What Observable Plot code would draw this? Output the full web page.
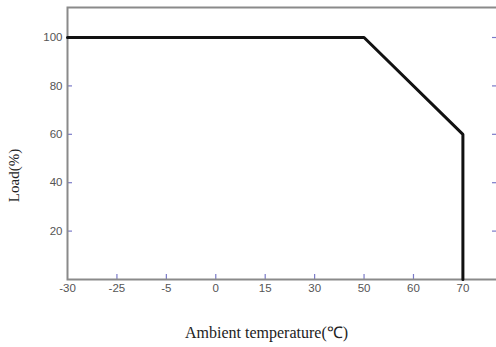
<!DOCTYPE html>
<html>
<head>
<meta charset="utf-8">
<script src="https://cdn.jsdelivr.net/npm/d3@7"></script>
<script src="https://cdn.jsdelivr.net/npm/@observablehq/plot@0.6"></script>
<style>
  html, body { margin: 0; padding: 0; background: #fff; }
  svg { display: block; }
</style>
</head>
<body>
<div id="chart"></div>
<script>
// Tick labels along the (non-uniform) temperature axis, equally spaced
const xTickLabels = ["-30", "-25", "-5", "0", "15", "30", "50", "60", "70"];
const yTickValues = [20, 40, 60, 80, 100];

// Derating curve
const temps = [-30, 50, 70, 70];
const loads = [100, 100, 60, 0];

const pos = t => xTickLabels.indexOf(String(t));
const curve = temps.map((t, i) => ({x: pos(t), y: loads[i]}));
const xIdx = xTickLabels.map((_, i) => i);

const W = 496, H = 347, mL = 67, mR = -1, mT = 7, mB = 68;
const frameW = W - mL - mR, frameH = H - mT - mB;
const tickLen = 5;

const tickColor = "#7a7ac8";
const labelColor = "#555";
const serif = "Liberation Serif, Times New Roman, serif";

const chart = Plot.plot({
  width: W,
  height: H,
  marginLeft: mL,
  marginRight: mR,
  marginTop: mT,
  marginBottom: mB,
  style: {fontFamily: "Liberation Sans, Arial, sans-serif", fontSize: "11px", background: "#fff"},
  x: {domain: [0, 8.7], axis: null},
  y: {domain: [0, 112.4], axis: null},
  marks: [
    // inward tick marks
    Plot.tickX(xIdx.slice(1), {x: d => d, insetTop: frameH - tickLen, stroke: tickColor, strokeWidth: 1.2}),
    Plot.tickY(yTickValues, {y: d => d, insetRight: frameW - tickLen, stroke: tickColor, strokeWidth: 1.2}),
    Plot.tickY(yTickValues, {y: d => d, insetLeft: frameW - tickLen, stroke: tickColor, strokeWidth: 1.2}),
    // tick labels
    Plot.axisX(xIdx, {anchor: "bottom", tickSize: 0, tickPadding: 4, tickFormat: i => xTickLabels[i], fill: labelColor, fontSize: 11.5, label: null}),
    Plot.axisY(yTickValues, {anchor: "left", tickSize: 0, tickPadding: 5, fill: labelColor, fontSize: 11.5, label: null}),
    Plot.frame({stroke: "#8a8a8a", strokeWidth: 2}),
    Plot.line(curve, {x: "x", y: "y", stroke: "#111", strokeWidth: 3, strokeLinejoin: "miter"}),
    Plot.text(["Ambient temperature(℃)"], {frameAnchor: "bottom", textAnchor: "middle", lineAnchor: "middle", dy: 53, dx: -16, fontFamily: serif, fontSize: 16, letterSpacing: 0.4, fill: "#222"}),
    Plot.text(["Load(%)"], {frameAnchor: "left", textAnchor: "middle", lineAnchor: "middle", dx: -53, dy: 32, rotate: -90, fontFamily: serif, fontSize: 15, letterSpacing: 0.4, fill: "#222"})
  ]
});
document.getElementById("chart").appendChild(chart);
</script>
</body>
</html>
